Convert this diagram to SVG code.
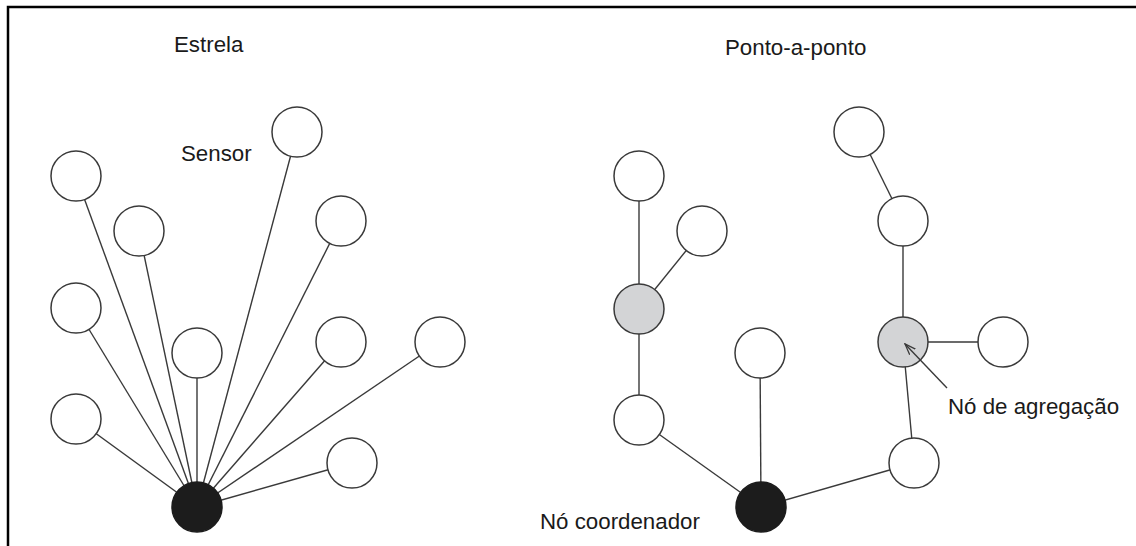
<svg xmlns="http://www.w3.org/2000/svg" width="1136" height="546" viewBox="0 0 1136 546">
<defs>
<style>
.lbl{font-family:"Liberation Sans",Arial,sans-serif;font-size:22.3px;fill:#1a1a1a}
.n circle{fill:#fff;stroke:#3a3a3a;stroke-width:1.5}
.n.agg circle{fill:#d3d4d6}
.n.coord circle{fill:#1c1c1c;stroke:#1c1c1c}
#connectors line{stroke:#3a3a3a;stroke-width:1.4}
</style>
<marker id="open" viewBox="0 0 12 10" refX="11" refY="5" markerWidth="12" markerHeight="10" markerUnits="userSpaceOnUse" orient="auto">
<path d="M0,1 L11,5 L0,9" fill="none" stroke="#3a3a3a" stroke-width="1.3"/>
</marker>
</defs>
<rect width="1136" height="546" fill="#fff"/>
<path d="M8,546 L8,7 L1136,7" fill="none" stroke="#000" stroke-width="2.5"/>
<text class="lbl" x="174" y="52">Estrela</text>
<text class="lbl" x="725" y="55">Ponto-a-ponto</text>
<text class="lbl" x="181" y="161">Sensor</text>
<text class="lbl" x="948" y="414">Nó de agregação</text>
<text class="lbl" x="540" y="529">Nó coordenador</text>
<g id="connectors">
<line x1="197" y1="507" x2="76" y2="176"/>
<line x1="197" y1="507" x2="139" y2="231"/>
<line x1="197" y1="507" x2="297" y2="132"/>
<line x1="197" y1="507" x2="341" y2="221"/>
<line x1="197" y1="507" x2="76" y2="308"/>
<line x1="197" y1="507" x2="197" y2="353"/>
<line x1="197" y1="507" x2="341" y2="342"/>
<line x1="197" y1="507" x2="440" y2="342"/>
<line x1="197" y1="507" x2="76" y2="419"/>
<line x1="197" y1="507" x2="352" y2="463"/>
<line x1="639" y1="176" x2="639" y2="309"/>
<line x1="702" y1="231" x2="639" y2="309"/>
<line x1="639" y1="309" x2="639" y2="420"/>
<line x1="639" y1="420" x2="761" y2="507"/>
<line x1="760" y1="353" x2="761" y2="507"/>
<line x1="761" y1="507" x2="914" y2="463"/>
<line x1="914" y1="463" x2="903" y2="342"/>
<line x1="903" y1="342" x2="903" y2="221"/>
<line x1="903" y1="221" x2="859" y2="132"/>
<line x1="903" y1="342" x2="1003" y2="342"/>
</g>
<g id="s-a" class="n"><circle cx="76" cy="176" r="25"/></g>
<g id="s-b" class="n"><circle cx="139" cy="231" r="25"/></g>
<g id="s-c" class="n"><circle cx="297" cy="132" r="25"/></g>
<g id="s-d" class="n"><circle cx="341" cy="221" r="25"/></g>
<g id="s-e" class="n"><circle cx="76" cy="308" r="25"/></g>
<g id="s-f" class="n"><circle cx="197" cy="353" r="25"/></g>
<g id="s-g" class="n"><circle cx="341" cy="342" r="25"/></g>
<g id="s-h" class="n"><circle cx="440" cy="342" r="25"/></g>
<g id="s-i" class="n"><circle cx="76" cy="419" r="25"/></g>
<g id="s-j" class="n"><circle cx="352" cy="463" r="25"/></g>
<g id="s-hub" class="n coord"><circle cx="197" cy="507" r="25"/></g>
<g id="p-k" class="n"><circle cx="639" cy="176" r="25"/></g>
<g id="p-l" class="n"><circle cx="702" cy="231" r="25"/></g>
<g id="p-m" class="n agg"><circle cx="639" cy="309" r="25"/></g>
<g id="p-n" class="n"><circle cx="760" cy="353" r="25"/></g>
<g id="p-o" class="n"><circle cx="859" cy="132" r="25"/></g>
<g id="p-p" class="n"><circle cx="903" cy="221" r="25"/></g>
<g id="p-q" class="n agg"><circle cx="903" cy="342" r="25"/></g>
<g id="p-r" class="n"><circle cx="1003" cy="342" r="25"/></g>
<g id="p-s" class="n"><circle cx="639" cy="420" r="25"/></g>
<g id="p-t" class="n"><circle cx="914" cy="463" r="25"/></g>
<g id="p-hub" class="n coord"><circle cx="761" cy="507" r="25"/></g>
<g id="agg-pointer"><line x1="947" y1="388" x2="905" y2="344" stroke="#3a3a3a" stroke-width="1.4" marker-end="url(#open)"/></g>
</svg>
